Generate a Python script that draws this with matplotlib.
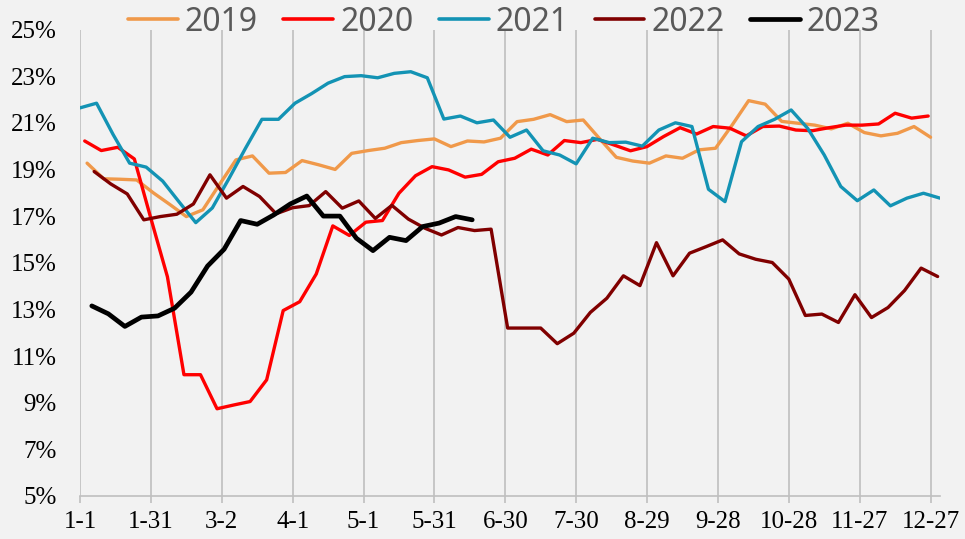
import numpy as np
import matplotlib
matplotlib.use('Agg')
import matplotlib.pyplot as plt

# weekly values (%), each series starts on the first Friday of its year
v2019 = [19.27, 18.6, 18.58, 18.55, 18.0, 17.5, 16.98, 17.27, 18.35, 19.41,
         19.58, 18.84, 18.87, 19.38, 19.2, 19.0, 19.69, 19.81, 19.91, 20.15,
         20.24, 20.31, 19.98, 20.22, 20.18, 20.34, 21.05, 21.15, 21.35, 21.05,
         21.12, 20.31, 19.52, 19.36, 19.27, 19.58, 19.48, 19.84, 19.91, 20.9,
         21.95, 21.8, 21.06, 20.98, 20.9, 20.74, 20.98, 20.58, 20.44, 20.55,
         20.84, 20.38]
v2020 = [20.22, 19.81, 19.95, 19.45, 16.9, 14.4, 10.2, 10.2, 8.74, 8.9,
         9.05, 9.98, 12.95, 13.33, 14.52, 16.58, 16.17, 16.74, 16.81, 17.98,
         18.73, 19.12, 18.98, 18.67, 18.79, 19.33, 19.48, 19.87, 19.62, 20.24,
         20.15, 20.29, 20.05, 19.8, 19.98, 20.41, 20.79, 20.52, 20.84, 20.77,
         20.44, 20.84, 20.86, 20.69, 20.66, 20.79, 20.9, 20.9, 20.95, 21.41,
         21.2, 21.29]
v2021 = [21.64, 21.84, 20.5, 19.27, 19.1, 18.5, 17.6, 16.72, 17.35, 18.6,
         19.9, 21.15, 21.15, 21.84, 22.25, 22.7, 22.98, 23.02, 22.93, 23.12,
         23.19, 22.93, 21.16, 21.29, 21.0, 21.12, 20.38, 20.69, 19.8, 19.62,
         19.24, 20.34, 20.15, 20.17, 20.0, 20.69, 21.0, 20.84, 18.15, 17.62,
         20.19, 20.84, 21.15, 21.55, 20.76, 19.62, 18.27, 17.66, 18.12, 17.44,
         17.77, 17.98, 17.77]
v2022 = [18.91, 18.38, 17.95, 16.84, 16.98, 17.08, 17.52, 18.77, 17.77, 18.27,
         17.84, 17.1, 17.36, 17.45, 18.05, 17.34, 17.65, 16.9, 17.46, 16.87,
         16.48, 16.19, 16.51, 16.38, 16.44, 12.2, 12.2, 12.2, 11.53, 11.98,
         12.87, 13.48, 14.44, 14.02, 15.86, 14.44, 15.41, 15.69, 15.98, 15.38,
         15.15, 15.01, 14.3, 12.74, 12.8, 12.44, 13.63, 12.65, 13.08, 13.81,
         14.77, 14.41]
v2023 = [13.15, 12.81, 12.27, 12.67, 12.72, 13.05, 13.74, 14.86, 15.58, 16.81,
         16.65, 17.05, 17.52, 17.86, 17.0, 17.0, 16.05, 15.52, 16.09, 15.95,
         16.55, 16.7, 16.98, 16.84]

years = ['2019', '2020', '2021', '2022', '2023']
first_day = [3, 2, 0, 6, 5]   # day offset of first Friday from 1-1
colors = ['#F0994A', '#FF0000', '#1393B4', '#800000', '#000000']

tick_days = [0, 30, 60, 90, 120, 150, 180, 210, 240, 270, 300, 330, 360]
tick_labels = ['1-1', '1-31', '3-2', '4-1', '5-1', '5-31', '6-30', '7-30',
               '8-29', '9-28', '10-28', '11-27', '12-27']

bg = '#F2F2F2'
fig = plt.figure(figsize=(9.65, 5.39), dpi=100, facecolor=bg)
ax = fig.add_axes([80 / 965, 1 - 496 / 539, 860 / 965, 466.5 / 539])
ax.set_facecolor(bg)

series = [v2019, v2020, v2021, v2022, v2023]
for name, vals, d0, c in zip(years, series, first_day, colors):
    x = d0 + 7 * np.arange(len(vals))
    lw = 3.4 if name == '2023' else 2.4
    ax.plot(x, vals, color=c, lw=lw, label=name,
            solid_joinstyle='round', solid_capstyle='round')

ax.set_xlim(0, 364)
ax.set_ylim(5, 25)
ax.set_xticks(tick_days)
ax.set_xticklabels(tick_labels)
ax.set_yticks(range(5, 26, 2))
ax.set_yticklabels([f'{v}%' for v in range(5, 26, 2)])

serif = 'Liberation Serif'
for lab in ax.get_xticklabels() + ax.get_yticklabels():
    lab.set_fontfamily(serif)
    lab.set_fontsize(18)
    lab.set_color('black')

ax.grid(axis='x', color='#BFBFBF', lw=1.2)
ax.set_axisbelow(True)
for s in ['top', 'right', 'left']:
    ax.spines[s].set_visible(False)
ax.spines['bottom'].set_color('#BFBFBF')
ax.spines['bottom'].set_linewidth(1.2)
ax.tick_params(axis='x', colors='#BFBFBF', length=5, width=1.2, pad=6,
               labelcolor='black')
ax.tick_params(axis='y', length=0, pad=17, labelcolor='black')

leg = fig.legend(loc='center', bbox_to_anchor=(504 / 965, 1 - 22 / 539),
                 ncol=5, frameon=False, handlelength=1.56, handletextpad=0.22,
                 columnspacing=0.8, prop={'family': 'Noto Sans', 'size': 23})
for t in leg.get_texts():
    t.set_color('#595959')
for h in leg.get_lines():
    h.set_linewidth(3.4 if h.get_label() == '2023' else 2.6)

fig.savefig('out.png', dpi=100, facecolor=bg)
